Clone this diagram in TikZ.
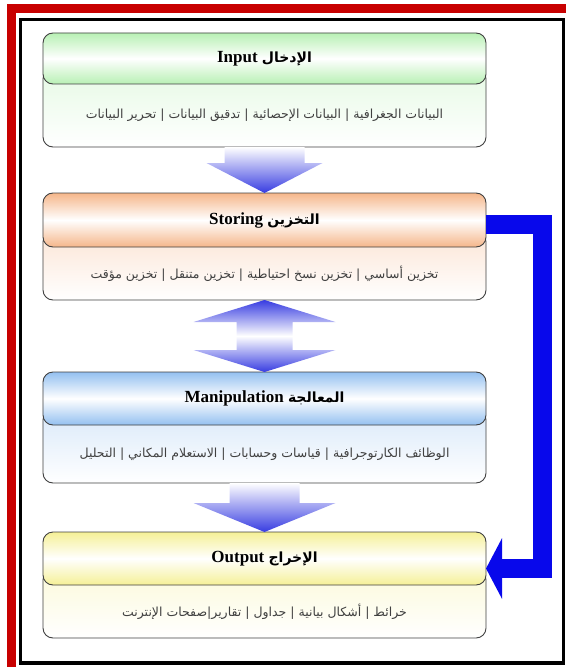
\documentclass[tikz,border=0pt]{standalone}
\usepackage{fontspec}
\setmainfont{Liberation Serif}
\newfontfamily\arabicfont[Script=Arabic]{DejaVu Sans}
\TeXXeTstate=1
\usetikzlibrary{arrows.meta,calc}
\definecolor{framered}{RGB}{200,0,0}
\definecolor{headgreen}{RGB}{184,240,180}
\definecolor{headorange}{RGB}{245,182,138}
\definecolor{headblue}{RGB}{148,192,240}
\definecolor{headyellow}{RGB}{245,240,150}
\definecolor{flowblue}{RGB}{55,60,225}
\definecolor{linkblue}{RGB}{8,8,235}
\tikzset{
  box/.style={rectangle, rounded corners=10bp, draw=black!75, line width=0.9bp,
    minimum width=443bp, inner sep=0pt, outer sep=0pt},
  flow/.style={top color=white, bottom color=flowblue},
  link/.style={draw=linkblue, line width=19bp, line join=miter},
}
\begin{document}
\begin{tikzpicture}[x=1bp, y=-1bp]
\useasboundingbox (0,0) rectangle (566,667);
% frames
\draw[framered, line width=9bp, line join=miter] (11.5,667) -- (11.5,9) -- (566,9);
\draw[line width=3.5bp] (20.5,19.5) rectangle (563.5,663);
% the four stages
\foreach \id/\ytop/\ymid/\ybot/\col/\title/\arab/\items in {
  in/33/84/147/headgreen/Input/{الإدخال}/{البيانات الجغرافية | البيانات الإحصائية | تدقيق البيانات | تحرير البيانات},
  st/193/247/300/headorange/Storing/{التخزين}/{تخزين أساسي | تخزين نسخ احتياطية | تخزين متنقل | تخزين مؤقت},
  mn/372/425/483/headblue/Manipulation/{المعالجة}/{الوظائف الكارتوجرافية | قياسات وحسابات | الاستعلام المكاني | التحليل},
  out/532/585/638/headyellow/Output/{الإخراج}/{خرائط | أشكال بيانية | جداول | تقارير|صفحات الإنترنت}}
{
  \node[box, top color=\col!35, bottom color=white, minimum height={(\ybot-\ymid+15)*1bp}]
    (\id-body) at (264.5,{(\ymid-15+\ybot)/2}) {};
  \node[box, top color=\col, bottom color=\col, middle color=white, minimum height={(\ymid-\ytop)*1bp}]
    (\id-head) at (264.5,{(\ytop+\ymid)/2})
    {\fontsize{17bp}{20bp}\selectfont\textbf{\title}\ {\arabicfont\bfseries\fontsize{14bp}{20bp}\selectfont\beginR\arab\endR}};
  \node[text=black!75] (\id-items) at (264.5,{(\ymid+\ybot)/2})
    {\arabicfont\fontsize{12.5bp}{15bp}\selectfont\beginR\items\endR};
}
% flow arrows
\shade[flow] ($(in-body.south)+(-40,0)$) -- ($(in-body.south)+(40,0)$)
  -- ($(st-head.north)+(40,-30)$) -- ($(st-head.north)+(58,-30)$) -- (st-head.north)
  -- ($(st-head.north)+(-58,-30)$) -- ($(st-head.north)+(-40,-30)$) -- cycle;
\shade[top color=flowblue, bottom color=flowblue, middle color=white] (st-body.south)
  -- ($(st-body.south)+(71,22)$) -- ($(st-body.south)+(28,22)$)
  -- ($(mn-head.north)+(28,-22)$) -- ($(mn-head.north)+(71,-22)$) -- (mn-head.north)
  -- ($(mn-head.north)+(-71,-22)$) -- ($(mn-head.north)+(-28,-22)$)
  -- ($(st-body.south)+(-28,22)$) -- ($(st-body.south)+(-71,22)$) -- cycle;
\shade[flow] ($(mn-body.south)+(-35,0)$) -- ($(mn-body.south)+(35,0)$)
  -- ($(out-head.north)+(35,-29)$) -- ($(out-head.north)+(71,-29)$) -- (out-head.north)
  -- ($(out-head.north)+(-71,-29)$) -- ($(out-head.north)+(-35,-29)$) -- cycle;
% storing to output
\draw[link, -{Triangle[width=60bp, length=16bp]}] ([yshift=-4bp]st-head.east) -- ++(56,0)
  |- ([yshift=-10bp]out-head.east);
\end{tikzpicture}
\end{document}
